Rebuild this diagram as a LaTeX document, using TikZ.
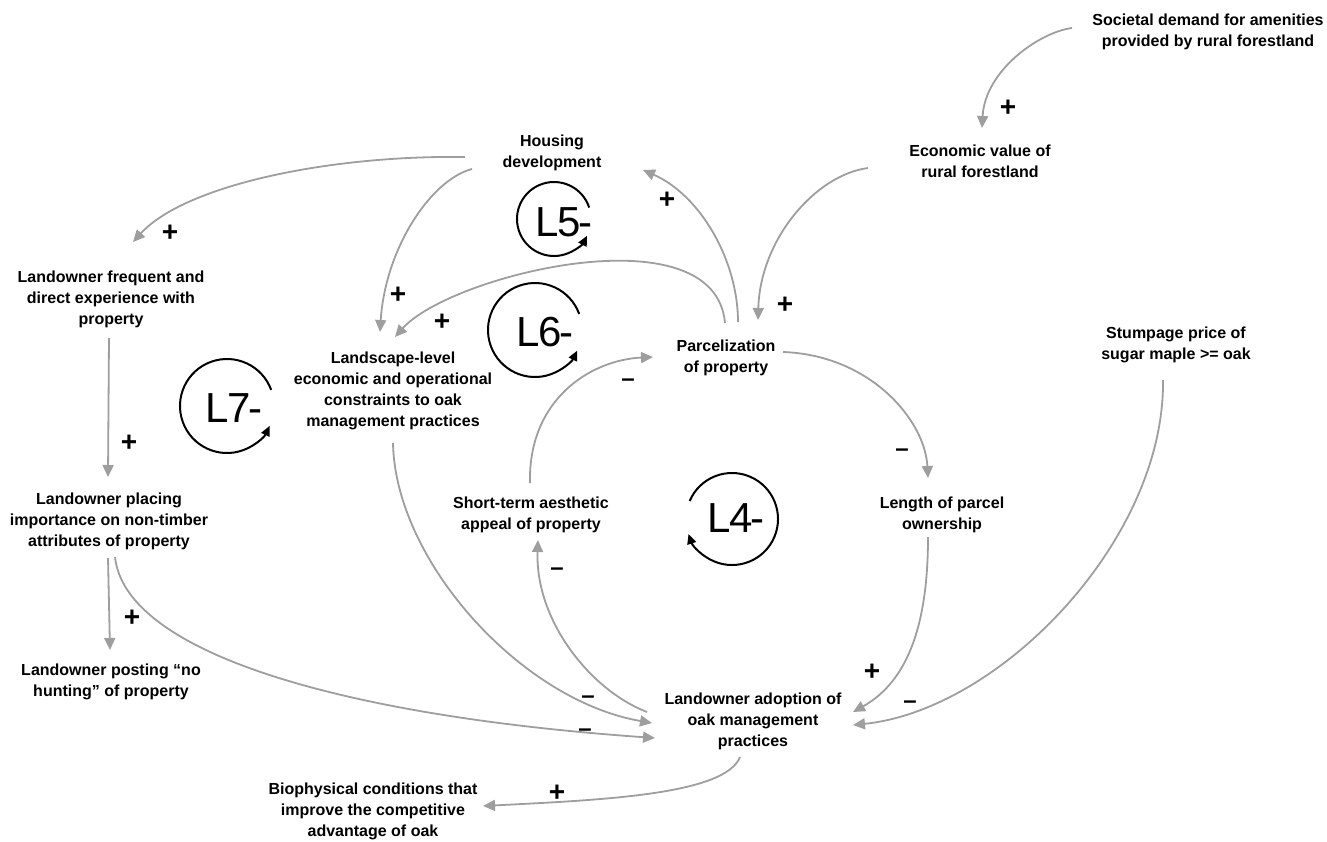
\documentclass[tikz,border=0pt]{standalone}
\usepackage{fontspec}
\setmainfont{Liberation Sans}
\usetikzlibrary{arrows.meta}
\definecolor{linkgray}{RGB}{158,158,158}
\begin{document}
\begin{tikzpicture}[x=1pt,y=-1pt,
  var/.style={align=center, font=\bfseries\fontsize{16}{21}\selectfont, inner sep=0pt},
  link/.style={draw=linkgray, line width=1.8pt, -{Triangle[length=12pt,width=11pt]}},
  plussign/.style={font=\bfseries\fontsize{28}{28}\selectfont, inner sep=0pt},
  minussign/.style={font=\bfseries\fontsize{24}{24}\selectfont, inner sep=0pt},
  loopname/.style={font=\fontsize{42}{42}\selectfont\addfontfeatures{LetterSpace=-4}, inner sep=0pt},
  loopring/.style={draw=black, line width=2pt, -{Triangle[length=10pt,width=9pt]}}
]
\useasboundingbox (0,0) rectangle (1327,841);

% variables
\node[var] (soc)   at (1208,32)  {Societal demand for amenities\\provided by rural forestland};
\node[var] (eco)   at (980,161)  {Economic value of\\rural forestland};
\node[var] (hous)  at (552,153)  {Housing\\development};
\node[var] (freq)  at (111,299)  {Landowner frequent and\\direct experience with\\property};
\node[var] (land)  at (393,391)  {Landscape-level\\economic and operational\\constraints to oak\\management practices};
\node[var] (parc)  at (726,358)  {Parcelization\\of property};
\node[var] (stump) at (1176,345) {Stumpage price of\\sugar maple >= oak};
\node[var] (short) at (531,515)  {Short-term aesthetic\\appeal of property};
\node[var] (len)   at (942,515)  {Length of parcel\\ownership};
\node[var] (plac)  at (109,521)  {Landowner placing\\importance on non-timber\\attributes of property};
\node[var] (hunt)  at (111,682)  {Landowner posting “no\\hunting” of property};
\node[var] (adopt) at (753,721)  {Landowner adoption of\\oak management\\practices};
\node[var] (bio)   at (373,811)  {Biophysical conditions that\\improve the competitive\\advantage of oak};

% causal links
\draw[link] ([shift={(-136,-4)}]soc.center) .. controls +(-32,4) and +(3,-58) .. ([shift={(2,-33)}]eco.center);
\draw[link] ([shift={(-112,7)}]eco.center) .. controls +(-53,7) and +(2,-80) .. ([shift={(32,-38)}]parc.center);
\draw[link] ([shift={(12,-36)}]parc.center) .. controls +(0,-62) and +(57,25) .. ([shift={(91,17)}]hous.center);
\draw[link] ([shift={(-1,-35)}]parc.center) .. controls +(-10,-113) and +(55,-62) .. ([shift={(2,-54)}]land.center);
\draw[link] ([shift={(-80,16)}]hous.center) .. controls +(-42,11) and +(5,-82) .. ([shift={(-13,-59)}]land.center);
\draw[link] ([shift={(-87,4)}]hous.center) .. controls +(-135,-2) and +(52,-57) .. ([shift={(22,-57)}]freq.center);
\draw[link] ([shift={(-2,39)}]freq.center) -- ([shift={(-1,-44)}]plac.center);
\draw[link] ([shift={(-1,37)}]plac.center) -- ([shift={(-1,-32)}]hunt.center);
\draw[link] ([shift={(6,36)}]plac.center) .. controls +(10,93) and +(-325,-23) .. ([shift={(-98,17)}]adopt.center);
\draw[link] ([shift={(0,52)}]land.center) .. controls +(2,117) and +(-132,-23) .. ([shift={(-101,2)}]adopt.center);
\draw[link] ([shift={(-106,-9)}]adopt.center) .. controls +(-57,-22) and +(-3,80) .. ([shift={(7,25)}]short.center);
\draw[link] ([shift={(-1,-32)}]short.center) .. controls +(-2,-83) and +(-63,3) .. ([shift={(-73,-1)}]parc.center);
\draw[link] ([shift={(57,-6)}]parc.center) .. controls +(87,3) and +(-3,-58) .. ([shift={(-14,-37)}]len.center);
\draw[link] ([shift={(-14,22)}]len.center) .. controls +(0,83) and +(57,-32) .. ([shift={(100,-9)}]adopt.center);
\draw[link] ([shift={(-13,35)}]stump.center) .. controls +(2,160) and +(147,-15) .. ([shift={(100,4)}]adopt.center);
\draw[link] ([shift={(-13,36)}]adopt.center) .. controls +(-15,38) and +(117,-6) .. ([shift={(110,-5)}]bio.center);

% link polarities
\node[plussign]  (s1)  at (1008,108) {+};
\node[plussign]  (s2)  at (785,305)  {+};
\node[plussign]  (s3)  at (667,200)  {+};
\node[plussign]  (s4)  at (442,322)  {+};
\node[plussign]  (s5)  at (398,295)  {+};
\node[plussign]  (s6)  at (170,233)  {+};
\node[plussign]  (s7)  at (129,443)  {+};
\node[plussign]  (s8)  at (132,618)  {+};
\node[minussign] (s9)  at (585,733)  {–};
\node[minussign] (s10) at (588,700)  {–};
\node[minussign] (s11) at (557,572)  {–};
\node[minussign] (s12) at (628,383)  {–};
\node[minussign] (s13) at (902,453)  {–};
\node[plussign]  (s14) at (872,672)  {+};
\node[minussign] (s15) at (910,705)  {–};
\node[plussign]  (s16) at (557,793)  {+};

% feedback loop markers
\node[loopname] (l5) at (564,222) {L5-};
\draw[loopring] ([shift={(18:37pt)}]554,219) arc[start angle=18, end angle=333, radius=37pt];
\node[loopname] (l6) at (545,332) {L6-};
\draw[loopring] ([shift={(20:47pt)}]535,330) arc[start angle=20, end angle=334, radius=47pt];
\node[loopname] (l7) at (234,408) {L7-};
\draw[loopring] ([shift={(20:47pt)}]227,406) arc[start angle=20, end angle=335, radius=47pt];
\node[loopname] (l4) at (736,518) {L4-};
\draw[loopring] ([shift={(157:46pt)}]732,519) arc[start angle=157, end angle=-161, radius=46pt];
\end{tikzpicture}
\end{document}
